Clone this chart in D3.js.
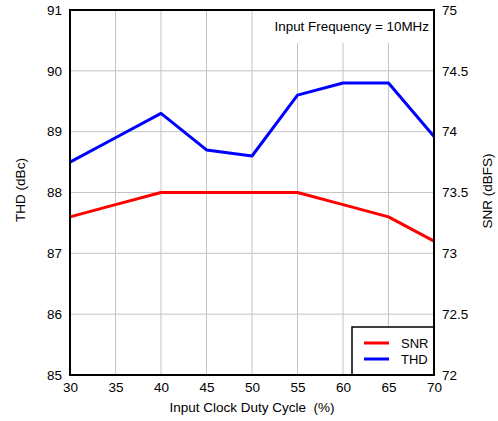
<!DOCTYPE html>
<html><head><meta charset="utf-8">
<script src="https://cdn.jsdelivr.net/npm/d3@7"></script>
<style>body{margin:0;background:#fff;} text{font-family:"Liberation Sans",Arial,Helvetica,sans-serif;fill:#000;white-space:pre;}</style>
</head><body>
<svg id="c" width="498" height="421"></svg>
<script>
const dutyCycle = [30, 35, 40, 45, 50, 55, 60, 65, 70];
const thd = [88.5, 88.9, 89.3, 88.7, 88.6, 89.6, 89.8, 89.8, 88.92];
const snr = [73.3, 73.4, 73.5, 73.5, 73.5, 73.5, 73.4, 73.3, 73.1];
const xTicks = [30, 35, 40, 45, 50, 55, 60, 65, 70];
const leftTicks = [85, 86, 87, 88, 89, 90, 91];
const rightTicks = [72, 72.5, 73, 73.5, 74, 74.5, 75];

const svg = d3.select("#c");
const L = 70, R = 434, T = 10, B = 375;
const x = d3.scaleLinear().domain([30, 70]).range([L, R]);
const yL = d3.scaleLinear().domain([85, 91]).range([B, T]);
const yR = d3.scaleLinear().domain([72, 75]).range([B, T]);

// grid
const g = svg.append("g");
g.selectAll(".vg").data(xTicks.slice(1, -1)).join("line")
  .attr("x1", d => x(d)).attr("x2", d => x(d)).attr("y1", T).attr("y2", B)
  .attr("stroke", "#c4c4c4").attr("stroke-width", 1);
g.selectAll(".hg").data(leftTicks.slice(1, -1)).join("line")
  .attr("x1", L).attr("x2", R).attr("y1", d => yL(d)).attr("y2", d => yL(d))
  .attr("stroke", "#c4c4c4").attr("stroke-width", 1);

// annotation box
svg.append("rect").attr("x", 262).attr("y", T + 1).attr("width", R - 262).attr("height", 32).attr("fill", "#fff");
svg.append("text").attr("x", R - 5).attr("y", 31).attr("text-anchor", "end")
  .style("font-size", "13.4px").text("Input Frequency = 10MHz");

// lines
const lineL = d3.line().x((d, i) => x(dutyCycle[i])).y(d => yL(d));
const lineR = d3.line().x((d, i) => x(dutyCycle[i])).y(d => yR(d));
svg.append("path").datum(snr).attr("d", lineR).attr("fill", "none").attr("stroke", "#ff0000").attr("stroke-width", 3).attr("stroke-linejoin", "round");
svg.append("path").datum(thd).attr("d", lineL).attr("fill", "none").attr("stroke", "#0000ff").attr("stroke-width", 3).attr("stroke-linejoin", "round");

// axes
const fmt = d => String(d);
const ax = svg.append("g").attr("transform", `translate(0,${B})`)
  .call(d3.axisBottom(x).tickValues(xTicks).tickSize(0).tickPadding(7).tickFormat(fmt));
const ayl = svg.append("g").attr("transform", `translate(${L},0)`)
  .call(d3.axisLeft(yL).tickValues(leftTicks).tickSize(0).tickPadding(8).tickFormat(fmt));
const ayr = svg.append("g").attr("transform", `translate(${R},0)`)
  .call(d3.axisRight(yR).tickValues(rightTicks).tickSize(0).tickPadding(8).tickFormat(fmt));
[ax, ayl, ayr].forEach(a => {
  a.select(".domain").remove();
  a.selectAll("text").style("font-size", "13.5px").style("font-family", "'Liberation Sans',Arial,sans-serif");
});

// titles
svg.append("text").attr("x", 252).attr("y", 412).attr("text-anchor", "middle")
  .style("font-size", "13.5px").text("Input Clock Duty Cycle  (%)");
svg.append("text").attr("transform", "translate(25,190) rotate(-90)").attr("text-anchor", "middle")
  .style("font-size", "13.5px").text("THD (dBc)");
svg.append("text").attr("transform", "translate(492,191) rotate(-90)").attr("text-anchor", "middle")
  .style("font-size", "13.5px").text("SNR (dBFS)");

// legend
const lg = svg.append("g");
lg.append("rect").attr("x", 352).attr("y", 327).attr("width", R - 352).attr("height", B - 327)
  .attr("fill", "#fff").attr("stroke", "#000").attr("stroke-width", 1.5);
const legendItems = [{name: "SNR", color: "#ff0000"}, {name: "THD", color: "#0000ff"}];
legendItems.forEach((d, i) => {
  const yy = 343 + i * 16;
  lg.append("line").attr("x1", 364).attr("x2", 389).attr("y1", yy).attr("y2", yy)
    .attr("stroke", d.color).attr("stroke-width", 3);
  lg.append("text").attr("x", 401).attr("y", yy + 4.5).style("font-size", "13px").text(d.name);
});
// frame on top
svg.append("rect").attr("x", L).attr("y", T).attr("width", R - L).attr("height", B - T)
  .attr("fill", "none").attr("stroke", "#000").attr("stroke-width", 2);
</script>
</body></html>
